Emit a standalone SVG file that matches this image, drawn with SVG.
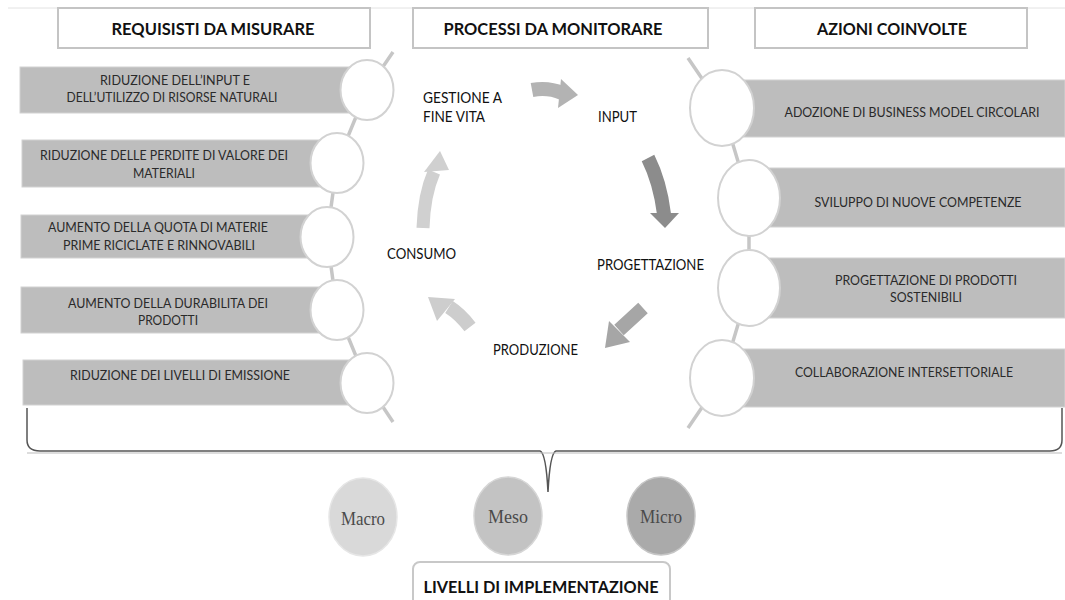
<svg xmlns="http://www.w3.org/2000/svg" width="1065" height="600" viewBox="0 0 1065 600">
<style>
.hdr{fill:#fff;stroke:#c4c4c4;stroke-width:2}
.ht{font-family:Lato,"Open Sans","Liberation Sans",sans-serif;font-weight:bold;font-size:17px;fill:#111;text-anchor:middle}
.bar{fill:#bdbdbd;stroke:#d2d2d2;stroke-width:1}
.bt{font-family:Lato,"Open Sans","Liberation Sans",sans-serif;font-size:14px;fill:#2a2a2a;text-anchor:middle}
.ct{font-family:Lato,"Open Sans","Liberation Sans",sans-serif;font-size:14.5px;fill:#111}
.circ{fill:#fff;stroke:#d2d2d2;stroke-width:2}
.chain{fill:none;stroke:#c6c6c6;stroke-width:3.5}
.lvl{font-family:"Liberation Serif","Times New Roman",serif;font-size:19px;fill:#4a4a4a;text-anchor:middle}
</style>
<rect width="1065" height="600" fill="#fff"/>
<line x1="8" y1="8" x2="1065" y2="8" stroke="#e2e2e2" stroke-width="1"/>

<g id="header-requisiti"><rect class="hdr" x="58" y="8" width="312" height="40"/><text class="ht" x="213" y="35" textLength="203" lengthAdjust="spacingAndGlyphs">REQUISISTI DA MISURARE</text></g>
<g id="header-processi"><rect class="hdr" x="413" y="8" width="295" height="40"/><text class="ht" x="553" y="35" textLength="219" lengthAdjust="spacingAndGlyphs">PROCESSI DA MONITORARE</text></g>
<g id="header-azioni"><rect class="hdr" x="755" y="8" width="272" height="40"/><text class="ht" x="892" y="35" textLength="150" lengthAdjust="spacingAndGlyphs">AZIONI COINVOLTE</text></g>

<!-- left bars -->
<g id="req-1"><rect class="bar" x="20" y="67" width="347" height="46"/><text class="bt" x="175" y="85" textLength="150" lengthAdjust="spacingAndGlyphs">RIDUZIONE DELL’INPUT E</text><text class="bt" x="172" y="102" textLength="211" lengthAdjust="spacingAndGlyphs">DELL’UTILIZZO DI RISORSE NATURALI</text></g>
<g id="req-2"><rect class="bar" x="22" y="140" width="315" height="47"/><text class="bt" x="164" y="160" textLength="248" lengthAdjust="spacingAndGlyphs">RIDUZIONE DELLE PERDITE DI VALORE DEI</text><text class="bt" x="164" y="178" textLength="62" lengthAdjust="spacingAndGlyphs">MATERIALI</text></g>
<g id="req-3"><rect class="bar" x="21" y="215" width="306" height="43"/><text class="bt" x="158" y="232" textLength="220" lengthAdjust="spacingAndGlyphs">AUMENTO DELLA QUOTA DI MATERIE</text><text class="bt" x="159" y="250" textLength="192" lengthAdjust="spacingAndGlyphs">PRIME RICICLATE E RINNOVABILI</text></g>
<g id="req-4"><rect class="bar" x="21" y="287" width="316" height="46"/><text class="bt" x="168" y="308" textLength="200" lengthAdjust="spacingAndGlyphs">AUMENTO DELLA DURABILITA DEI</text><text class="bt" x="168" y="325" textLength="60" lengthAdjust="spacingAndGlyphs">PRODOTTI</text></g>
<g id="req-5"><rect class="bar" x="23" y="360" width="344" height="45"/><text class="bt" x="180" y="380" textLength="220" lengthAdjust="spacingAndGlyphs">RIDUZIONE DEI LIVELLI DI EMISSIONE</text></g>

<!-- right bars -->
<g id="az-1"><rect class="bar" x="722" y="80" width="343" height="57"/><text class="bt" x="912" y="117" font-size="13" textLength="255" lengthAdjust="spacingAndGlyphs">ADOZIONE DI BUSINESS MODEL CIRCOLARI</text></g>
<g id="az-2"><rect class="bar" x="749" y="168" width="316" height="59"/><text class="bt" x="918" y="207" textLength="207" lengthAdjust="spacingAndGlyphs">SVILUPPO DI NUOVE COMPETENZE</text></g>
<g id="az-3"><rect class="bar" x="749" y="258" width="316" height="60"/><text class="bt" x="926" y="285" textLength="182" lengthAdjust="spacingAndGlyphs">PROGETTAZIONE DI PRODOTTI</text><text class="bt" x="926" y="302" textLength="72" lengthAdjust="spacingAndGlyphs">SOSTENIBILI</text></g>
<g id="az-4"><rect class="bar" x="722" y="349" width="343" height="58"/><text class="bt" x="904" y="377" textLength="218" lengthAdjust="spacingAndGlyphs">COLLABORAZIONE INTERSETTORIALE</text></g>

<!-- chains -->
<g id="connectors">
<polyline class="chain" points="393,52 367,90 337,163 327,237 337,310 367,383 393,422"/>
<polyline class="chain" points="688,58 722,108 749,198 749,288 722,378 688,428"/>
<path d="M27,408 L27,440 Q27,451 40,451 L540,451 Q546,453 548,492 Q550,453 556,451 L1050,451 Q1062,451 1062,440 L1062,408" fill="none" stroke="#555" stroke-width="1.5"/>
<path d="M27,453 L1062,453" stroke="#bbb" stroke-width="1.2"/>
</g>

<g id="left-circles">
<ellipse class="circ" cx="367" cy="90" rx="26.5" ry="30"/>
<ellipse class="circ" cx="337" cy="163" rx="26.5" ry="30"/>
<ellipse class="circ" cx="327" cy="237" rx="26.5" ry="30"/>
<ellipse class="circ" cx="337" cy="310" rx="26.5" ry="30"/>
<ellipse class="circ" cx="367" cy="383" rx="26.5" ry="30"/>
</g>
<g id="right-circles">
<ellipse class="circ" cx="722" cy="108" rx="32" ry="38"/>
<ellipse class="circ" cx="749" cy="198" rx="31" ry="38"/>
<ellipse class="circ" cx="749" cy="288" rx="31" ry="38"/>
<ellipse class="circ" cx="722" cy="378" rx="32" ry="38"/>
</g>

<!-- cycle arrows -->
<g id="arrow-top"><path d="M532,90 Q548,87 562,93" fill="none" stroke="#b3b3b3" stroke-width="14"/><polygon points="561,79 578,95 558,108" fill="#b3b3b3"/></g>
<g id="arrow-right"><path d="M648,158 Q660,182 664,214" fill="none" stroke="#8c8c8c" stroke-width="14"/><polygon points="650,213 679,213 665,228" fill="#8c8c8c"/></g>
<g id="arrow-lowright"><path d="M643,308 Q630,320 619,330" fill="none" stroke="#a6a6a6" stroke-width="14"/><polygon points="609,321 630,342 605,348" fill="#a6a6a6"/></g>
<g id="arrow-lowleft"><path d="M470,327 Q460,314 449,307" fill="none" stroke="#cdcdcd" stroke-width="14"/><polygon points="455,299 437,321 428,297" fill="#cdcdcd"/></g>
<g id="arrow-left"><path d="M423,228 Q424,195 434,172" fill="none" stroke="#d0d0d0" stroke-width="13"/><polygon points="424,172 449,170 440,151" fill="#d0d0d0"/></g>

<g id="proc-gestione"><text class="ct" x="423" y="103" textLength="79" lengthAdjust="spacingAndGlyphs">GESTIONE A</text><text class="ct" x="423" y="122" textLength="62" lengthAdjust="spacingAndGlyphs">FINE VITA</text></g>
<g id="proc-input"><text class="ct" x="598" y="122" textLength="39" lengthAdjust="spacingAndGlyphs">INPUT</text></g>
<g id="proc-progettazione"><text class="ct" x="597" y="270" textLength="107" lengthAdjust="spacingAndGlyphs">PROGETTAZIONE</text></g>
<g id="proc-produzione"><text class="ct" x="493" y="355" textLength="85" lengthAdjust="spacingAndGlyphs">PRODUZIONE</text></g>
<g id="proc-consumo"><text class="ct" x="387" y="259" textLength="69" lengthAdjust="spacingAndGlyphs">CONSUMO</text></g>

<g id="lvl-macro"><ellipse cx="363" cy="517" rx="34" ry="39" fill="#d9d9d9" stroke="#e6e6e6" stroke-width="1.5"/><text class="lvl" x="363" y="525" textLength="44" lengthAdjust="spacingAndGlyphs">Macro</text></g>
<g id="lvl-meso"><ellipse cx="508" cy="516" rx="34" ry="39" fill="#c3c3c3" stroke="#d6d6d6" stroke-width="1.5"/><text class="lvl" x="508" y="523" textLength="40" lengthAdjust="spacingAndGlyphs">Meso</text></g>
<g id="lvl-micro"><ellipse cx="661" cy="516" rx="34" ry="39" fill="#aaaaaa" stroke="#c6c6c6" stroke-width="1.5"/><text class="lvl" x="661" y="523" textLength="42" lengthAdjust="spacingAndGlyphs">Micro</text></g>

<g id="livelli"><rect x="413" y="562" width="257" height="50" rx="7" fill="#fff" stroke="#c8c8c8" stroke-width="2"/><text class="ht" x="541" y="593" textLength="235" lengthAdjust="spacingAndGlyphs">LIVELLI DI IMPLEMENTAZIONE</text></g>
</svg>
